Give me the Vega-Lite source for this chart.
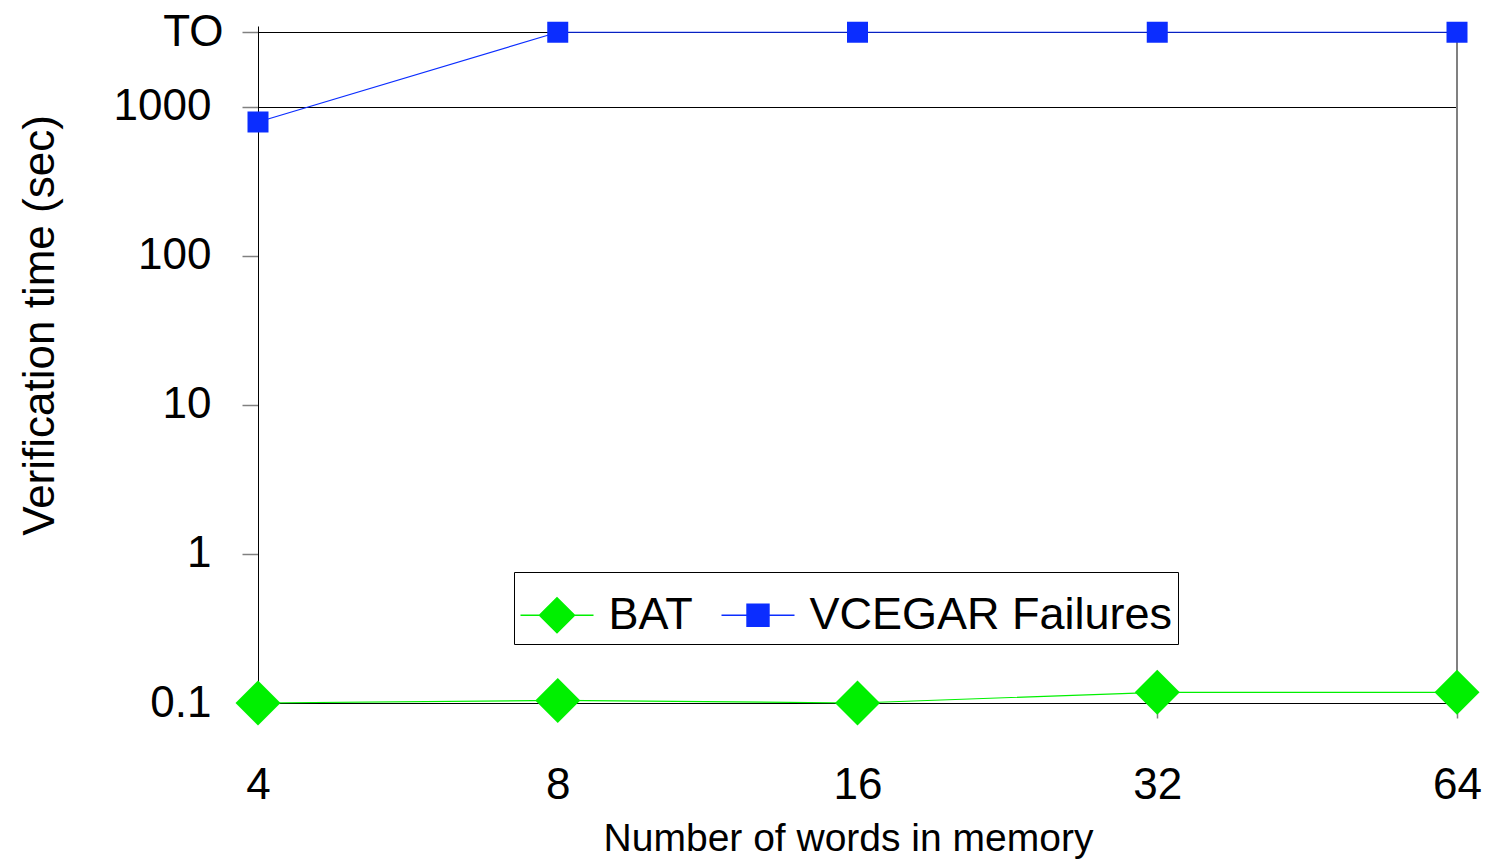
{
  "$schema": "https://vega.github.io/schema/vega-lite/v6.json",
  "width": 1199,
  "height": 677,
  "autosize": "none",
  "padding": {"left": 258, "top": 26, "right": 28, "bottom": 157},
  "background": "white",
  "config": {
    "view": {"stroke": null},
    "font": "Liberation Sans"
  },
  "datasets": {
    "times": [
      {"words": 4, "series": "BAT", "time": 0.1},
      {"words": 8, "series": "BAT", "time": 0.104},
      {"words": 16, "series": "BAT", "time": 0.1},
      {"words": 32, "series": "BAT", "time": 0.118},
      {"words": 64, "series": "BAT", "time": 0.118},
      {"words": 4, "series": "VCEGAR Failures", "time": 790},
      {"words": 8, "series": "VCEGAR Failures", "time": 3160},
      {"words": 16, "series": "VCEGAR Failures", "time": 3160},
      {"words": 32, "series": "VCEGAR Failures", "time": 3160},
      {"words": 64, "series": "VCEGAR Failures", "time": 3160}
    ],
    "frame": [
      {"words": 64, "lo": 0.1, "hi": 3160}
    ]
  },
  "data": {"name": "times"},
  "encoding": {
    "x": {
      "field": "words",
      "type": "quantitative",
      "title": "Number of words in memory",
      "scale": {"type": "log", "base": 2, "domain": [4, 64], "nice": false},
      "axis": {
        "values": [4, 8, 16, 32, 64],
        "format": "d",
        "grid": false,
        "domainColor": "black",
        "domainWidth": 1,
        "tickColor": "#808080",
        "tickWidth": 1.5,
        "tickSize": 15,
        "labelFont": "Liberation Sans",
        "labelFontSize": 44,
        "labelColor": "black",
        "labelPadding": 45,
        "labelFlush": false,
        "labelOverlap": false,
        "titleFont": "Liberation Sans",
        "titleFontSize": 39,
        "titleFontWeight": "normal",
        "titleColor": "black",
        "titleBaseline": "alphabetic",
        "titleX": 590,
        "titleY": 147
      }
    },
    "y": {
      "field": "time",
      "type": "quantitative",
      "title": "Verification time (sec)",
      "scale": {"type": "log", "domain": [0.1, 3480], "nice": false},
      "axis": {
        "values": [0.1, 1, 10, 100, 1000, 3160],
        "labelExpr": "datum.value > 3000 ? 'TO' : format(datum.value, '~g')",
        "grid": true,
        "gridColor": "black",
        "gridWidth": 1,
        "gridOpacity": {"condition": {"test": "datum.value >= 1000", "value": 1}, "value": 0},
        "domainColor": "black",
        "domainWidth": 1,
        "tickColor": "#808080",
        "tickWidth": 1.5,
        "tickSize": 16,
        "labelFont": "Liberation Sans",
        "labelFontSize": 44,
        "labelColor": "black",
        "labelPadding": {"condition": {"test": "datum.value > 3000", "value": 19}, "value": 31},
        "labelFlush": false,
        "labelOverlap": false,
        "titleFont": "Liberation Sans",
        "titleFontSize": 44,
        "titleFontWeight": "normal",
        "titleColor": "black",
        "titleBaseline": "alphabetic",
        "titleX": -205,
        "titleY": 299
      }
    },
    "color": {
      "field": "series",
      "type": "nominal",
      "scale": {"domain": ["BAT", "VCEGAR Failures"], "range": ["#00F000", "#0B2DFF"]},
      "legend": {
        "title": null,
        "orient": "none",
        "legendX": 256,
        "legendY": 546,
        "direction": "horizontal",
        "strokeColor": "black",
        "fillColor": "white",
        "padding": 5.5,
        "columnPadding": 25,
        "labelOffset": 14,
        "labelFont": "Liberation Sans",
        "labelFontSize": 45,
        "labelColor": "black",
        "labelLimit": 0,
        "labelExpr": "datum.label === 'VCEGAR Failures' ? datum.label + '\u00a0\u00a0' : datum.label",
        "symbolSize": 5329,
        "encode": {
          "symbols": {
            "update": {
              "shape": {"signal": "datum.value === 'BAT' ? 'M-1,0H-0.48M-0.48,0L0,-0.48L0.48,0L0,0.48ZM0.48,0H1' : 'M-1,0H-0.3M-0.3,-0.3H0.3V0.3H-0.3ZM0.3,0H1'"},
              "size": {"value": 5329},
              "fill": {"signal": "datum.value === 'BAT' ? '#00F000' : '#0B2DFF'"},
              "stroke": {"signal": "datum.value === 'BAT' ? '#4CF04C' : '#4A6CF0'"},
              "strokeWidth": {"value": 1.5},
              "opacity": {"value": 1},
              "fillOpacity": {"value": 1},
              "strokeOpacity": {"value": 1}
            }
          }
        }
      }
    }
  },
  "layer": [
    {
      "data": {"name": "frame"},
      "mark": {"type": "rule", "color": "#808080", "strokeWidth": 2},
      "encoding": {
        "x": {"field": "words", "type": "quantitative"},
        "y": {"field": "lo", "type": "quantitative"},
        "y2": {"field": "hi"},
        "color": {"value": "#808080"}
      }
    },
    {
      "mark": {"type": "line", "strokeWidth": 1.2}
    },
    {
      "transform": [{"filter": "datum.series === 'BAT'"}],
      "mark": {"type": "point", "shape": "diamond", "size": 2025, "filled": true, "opacity": 1}
    },
    {
      "transform": [{"filter": "datum.series === 'VCEGAR Failures'"}],
      "mark": {"type": "point", "shape": "square", "size": 441, "filled": true, "opacity": 1}
    }
  ]
}
